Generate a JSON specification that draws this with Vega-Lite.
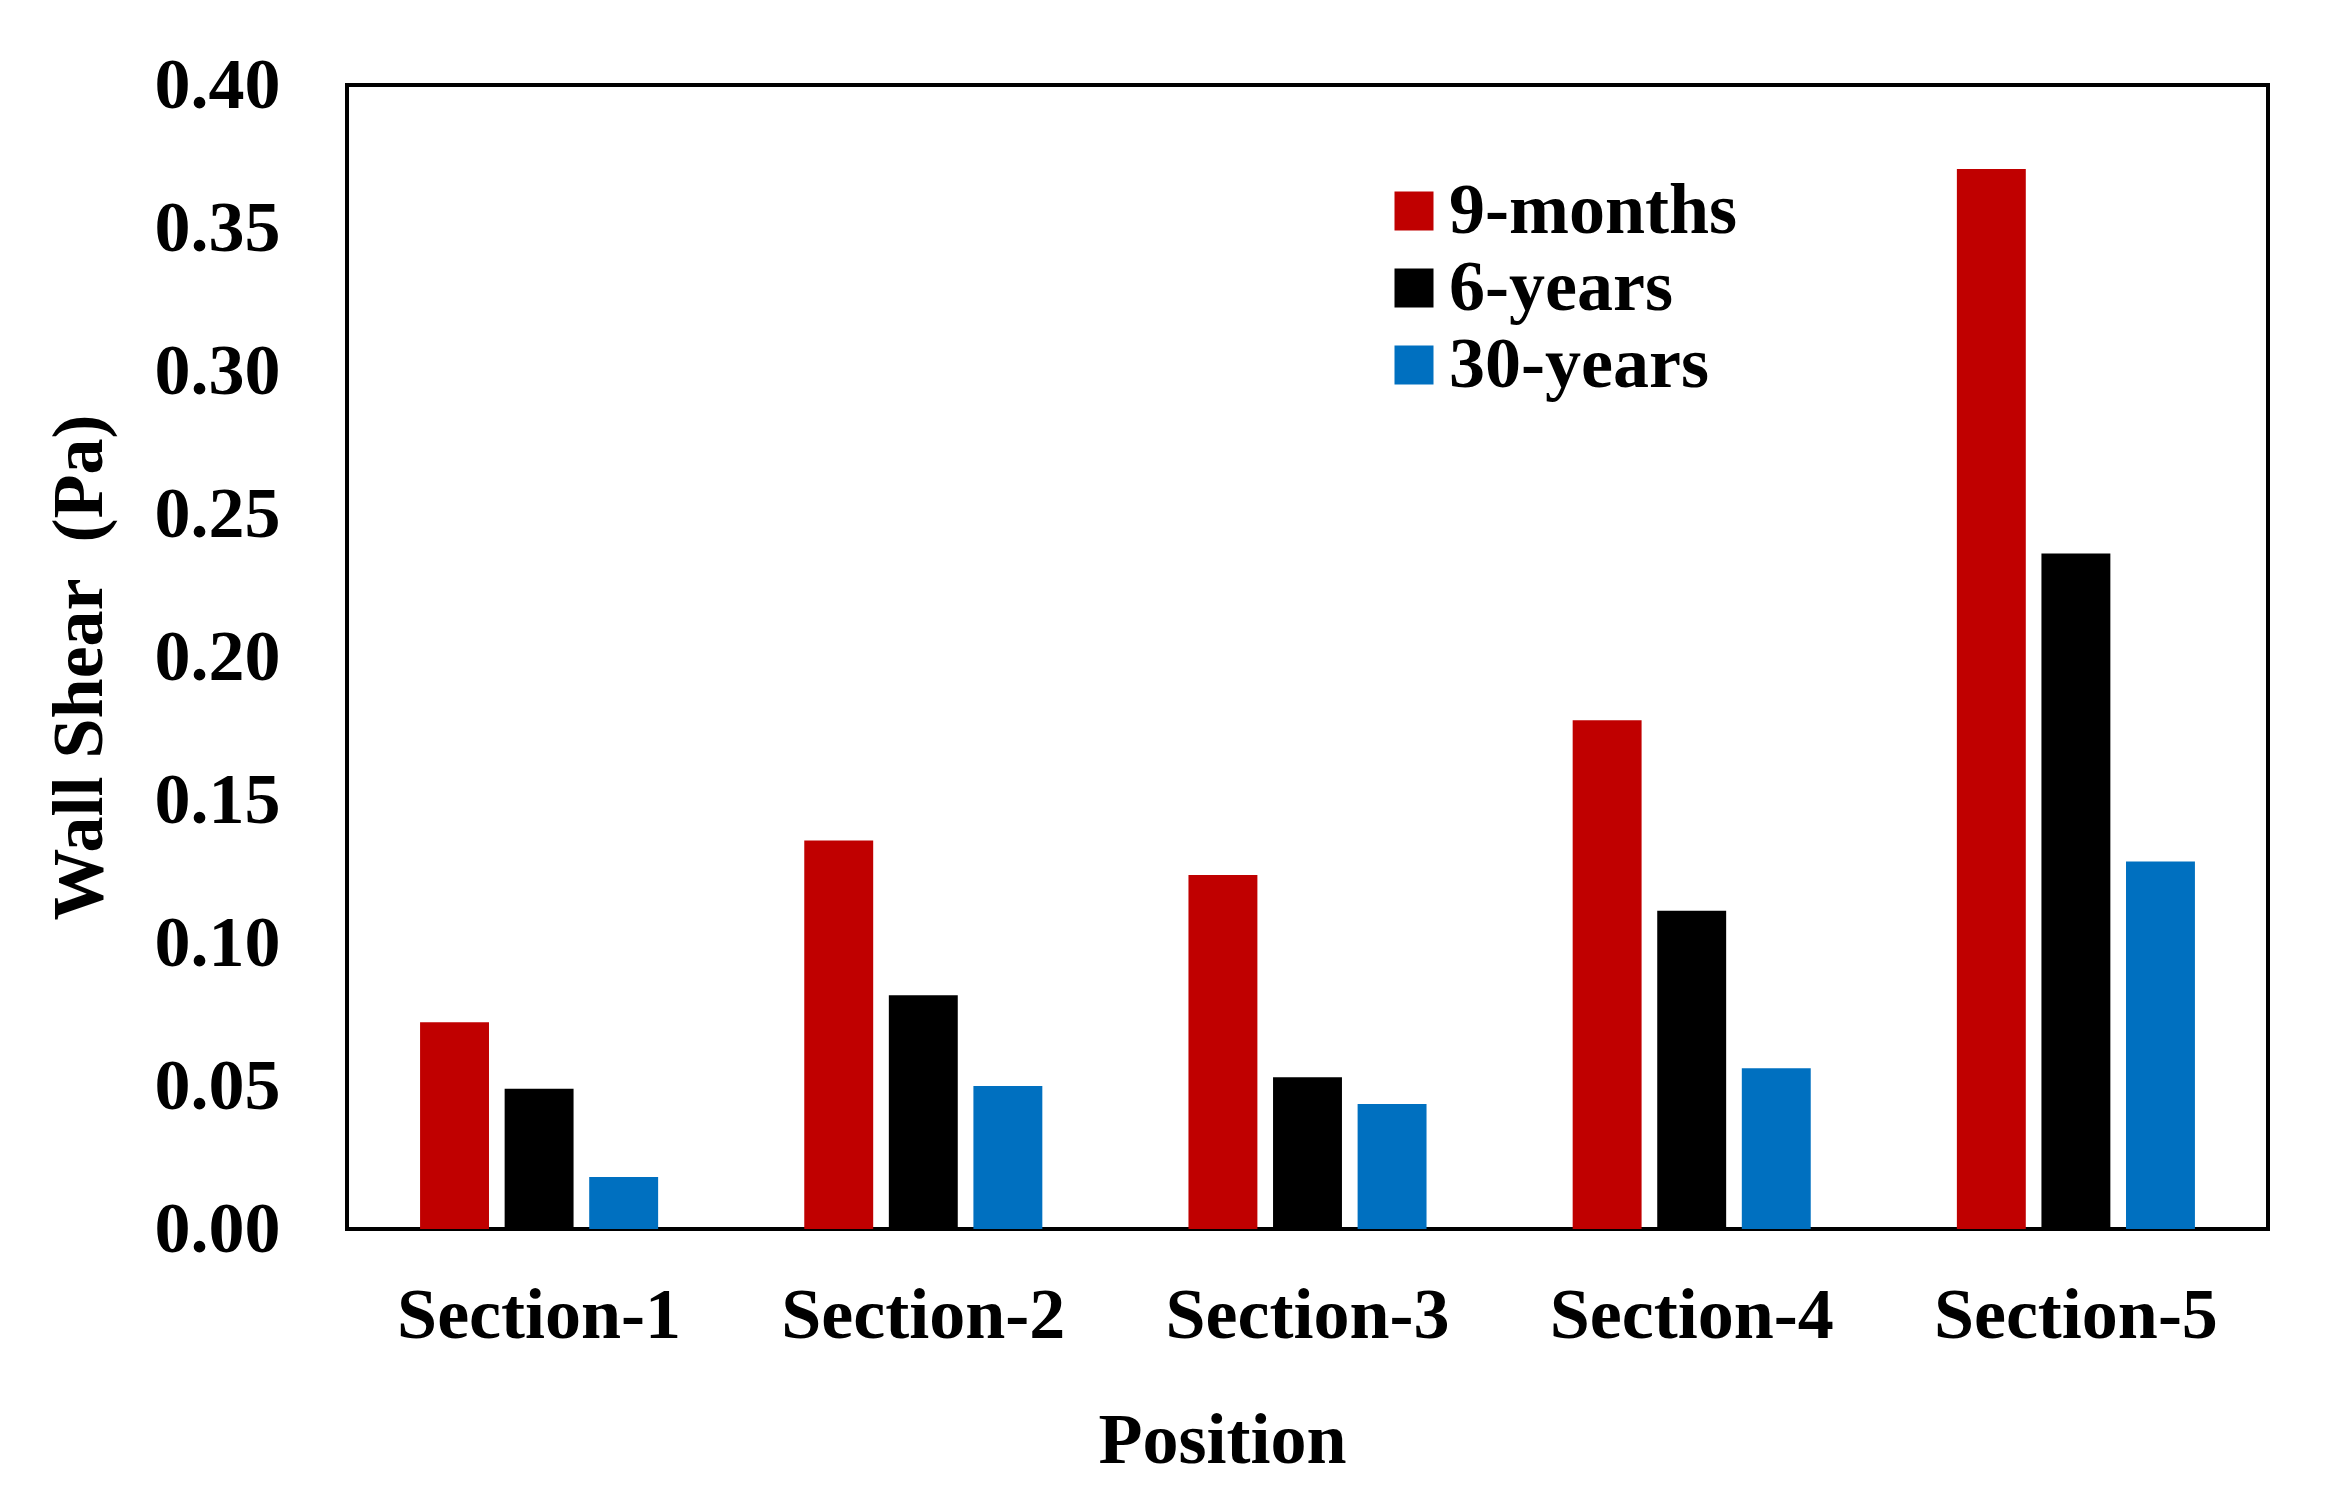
{
  "$schema": "https://vega.github.io/schema/vega-lite/v6.json",
  "autosize": "none",
  "width": 1921,
  "height": 1144,
  "padding": {"left": 347, "top": 85, "right": 64, "bottom": 279},
  "background": "white",
  "config": {
    "font": "Liberation Serif",
    "view": {"stroke": "black", "strokeWidth": 4},
    "axis": {"grid": false, "domain": false, "ticks": false, "tickSize": 0, "labelLimit": 0, "titleLimit": 0, "labelFont": "Liberation Serif", "titleFont": "Liberation Serif", "labelFontWeight": "bold", "titleFontWeight": "bold", "labelFontSize": 72, "titleFontSize": 72, "labelColor": "black", "titleColor": "black"}
  },
  "data": {
    "values": [
      {"section": "Section-1", "age": "9-months", "shear": 0.0723},
      {"section": "Section-1", "age": "6-years", "shear": 0.0490},
      {"section": "Section-1", "age": "30-years", "shear": 0.0182},
      {"section": "Section-2", "age": "9-months", "shear": 0.1358},
      {"section": "Section-2", "age": "6-years", "shear": 0.0817},
      {"section": "Section-2", "age": "30-years", "shear": 0.0500},
      {"section": "Section-3", "age": "9-months", "shear": 0.1238},
      {"section": "Section-3", "age": "6-years", "shear": 0.0531},
      {"section": "Section-3", "age": "30-years", "shear": 0.0437},
      {"section": "Section-4", "age": "9-months", "shear": 0.1779},
      {"section": "Section-4", "age": "6-years", "shear": 0.1113},
      {"section": "Section-4", "age": "30-years", "shear": 0.0562},
      {"section": "Section-5", "age": "9-months", "shear": 0.3706},
      {"section": "Section-5", "age": "6-years", "shear": 0.2362},
      {"section": "Section-5", "age": "30-years", "shear": 0.1285}
    ]
  },
  "mark": {"type": "bar"},
  "encoding": {
    "x": {
      "field": "section", "type": "nominal",
      "scale": {"paddingInner": 0, "paddingOuter": 0},
      "axis": {"title": "Position", "labelAngle": 0, "labelBaseline": "alphabetic", "labelPadding": 108, "titleX": 875, "titleY": 233, "titleBaseline": "alphabetic", "titleAlign": "center"}
    },
    "xOffset": {
      "field": "age", "type": "nominal",
      "scale": {"domain": ["9-months", "6-years", "30-years"], "paddingInner": 0.185, "paddingOuter": 0.864}
    },
    "y": {
      "field": "shear", "type": "quantitative",
      "scale": {"domain": [0, 0.4], "nice": false},
      "axis": {"title": "Wall Shear\u00a0 (Pa)", "format": ".2f", "values": [0, 0.05, 0.1, 0.15, 0.2, 0.25, 0.3, 0.35, 0.4], "labelPadding": 67, "titleAngle": -90, "titleX": -246, "titleY": 582, "titleBaseline": "alphabetic", "titleAlign": "center"}
    },
    "color": {
      "field": "age", "type": "nominal",
      "scale": {"domain": ["9-months", "6-years", "30-years"], "range": ["#C00000", "#000000", "#0070C0"]},
      "legend": {"title": null, "orient": "none", "legendX": 1031, "legendY": 90, "padding": 0, "symbolType": "square", "symbolSize": 1521, "symbolStrokeWidth": 0, "labelFont": "Liberation Serif", "labelFontWeight": "bold", "labelFontSize": 72, "labelColor": "black", "labelOffset": -1, "labelLimit": 0, "rowPadding": 5}
    }
  }
}
